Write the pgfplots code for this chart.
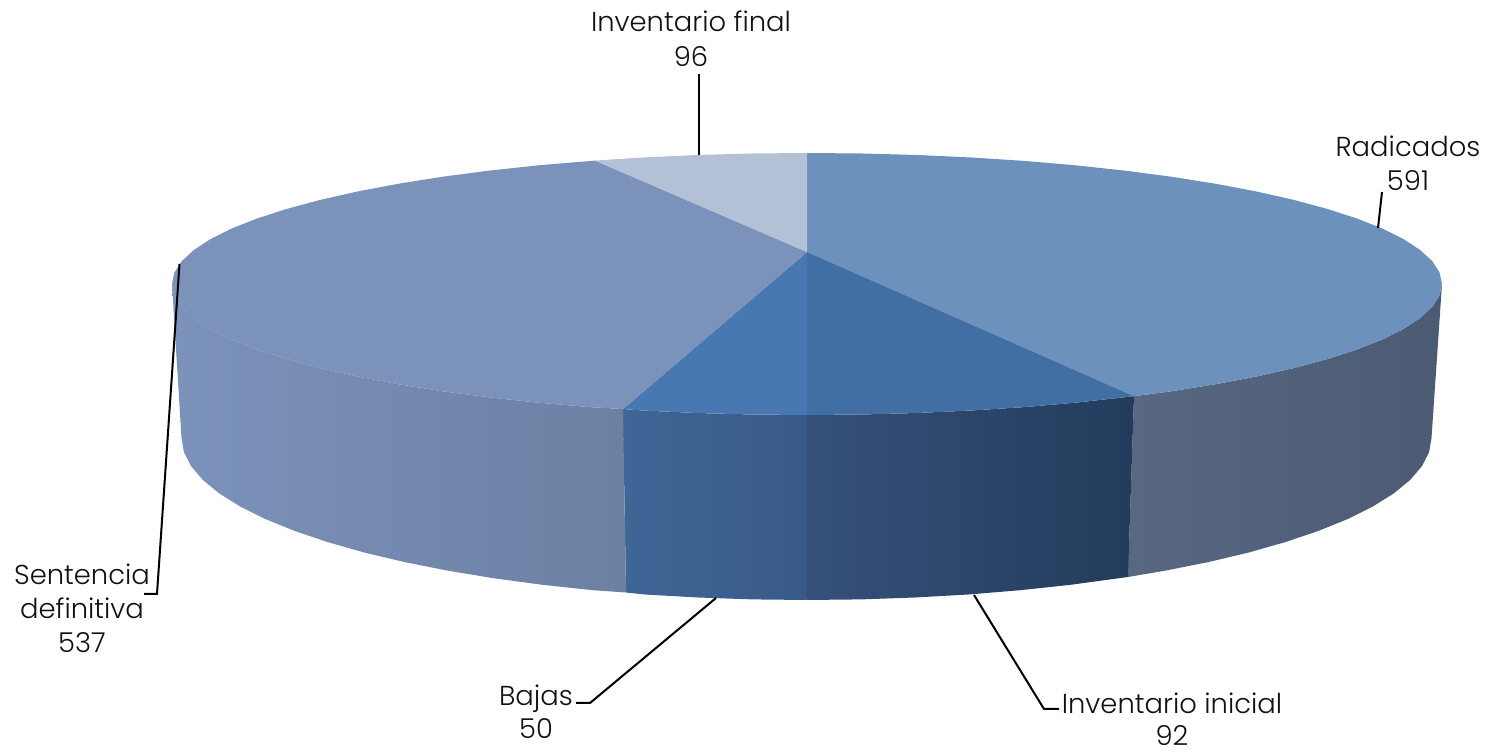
\documentclass[border=0pt]{standalone}
\usepackage{pgfplots}
\pgfplotsset{compat=1.18}
\usepackage{fontspec}
\setmainfont{Poppins Light}
\definecolor{tR}{HTML}{6C91BD}
\definecolor{tI}{HTML}{426FA3}
\definecolor{tB}{HTML}{4878B2}
\definecolor{tS}{HTML}{7B92BB}
\definecolor{tF}{HTML}{B4C0D5}
\definecolor{txt}{HTML}{111111}
\tikzset{lab/.style={anchor=base,font=\fontsize{13.7pt}{15pt}\selectfont,text=txt,inner sep=0pt},
lead/.style={black,line width=1pt}}
\begin{document}
\begin{tikzpicture}
\clip (0,0) rectangle (745pt,376.5pt);
\begin{axis}[width=745pt,height=376.5pt,scale only axis,xmin=0,xmax=1490,ymin=0,ymax=753,y dir=reverse,hide axis,clip=false]
% side walls
\addplot[draw=none,shade,left color={rgb,255:red,88;green,104;blue,130},middle color={rgb,255:red,77;green,92;blue,116},right color={rgb,255:red,76;green,91;blue,115},forget plot] coordinates {
(1134,396.2)(1171.2,391.3)(1215.2,384.3)(1256,376.6)(1293.4,368.2)(1327.2,359.1)(1356.9,349.5)(1382.5,339.4)(1403.7,328.8)(1420.3,317.9)(1432.4,306.7)(1439.6,295.4)(1442,284)
(1431.5,438)(1429.1,452.1)(1422,466.1)(1410.2,479.9)(1393.8,493.4)(1372.9,506.5)(1347.8,519)(1318.5,530.9)(1285.3,542.1)(1248.4,552.6)(1208.3,562.1)(1165,570.7)(1128,577)} -- cycle;
\addplot[draw=none,shade,left color={rgb,255:red,53;green,80;blue,122},right color={rgb,255:red,35;green,60;blue,92},forget plot] coordinates {
(807,415)(862.4,414.5)(917.2,413)(971.3,410.5)(1024.2,407.1)(1075.4,402.7)(1134,396.2)
(1128,577)(1070.6,584.8)(1020.3,590.2)(968.3,594.5)(915,597.5)(861,599.4)(806.5,600)} -- cycle;
\addplot[draw=none,shade,left color={rgb,255:red,62;green,102;blue,150},right color={rgb,255:red,57;green,90;blue,136},forget plot] coordinates {
(623,409)(642.7,410.5)(696.8,413)(751.6,414.5)(807,415)
(806.5,600)(752,599.4)(698,597.5)(644.7,594.5)(626,592.5)} -- cycle;
\addplot[draw=none,shade,left color={rgb,255:red,123;green,146;blue,187},middle color={rgb,255:red,120;green,143;blue,182},right color={rgb,255:red,108;green,128;blue,162},forget plot] coordinates {
(172,284)(174.4,295.4)(181.6,306.7)(193.7,317.9)(210.3,328.8)(231.5,339.4)(257.1,349.5)(286.8,359.1)(320.6,368.2)(358,376.6)(398.8,384.3)(442.8,391.3)(489.5,397.4)(538.6,402.7)(589.8,407.1)(623,409)
(626,592.5)(592.7,590.2)(542.4,584.8)(494,578.3)(448,570.7)(404.7,562.1)(364.6,552.6)(327.7,542.1)(294.5,530.9)(265.2,519)(240.1,506.5)(219.2,493.4)(202.8,479.9)(191,466.1)(183.9,452.1)(181.5,438)} -- cycle;
% top faces
\addplot[draw=none,fill=tR,forget plot] coordinates {
(807,252)(807,153)(862.4,153.5)(917.2,155)(971.3,157.5)(1024.2,160.9)(1075.4,165.3)(1124.5,170.6)(1171.2,176.7)(1215.2,183.7)(1256,191.4)(1293.4,199.8)(1327.2,208.9)(1356.9,218.5)(1382.5,228.6)(1403.7,239.2)(1420.3,250.1)(1432.4,261.3)(1439.6,272.6)(1442,284)(1439.6,295.4)(1432.4,306.7)(1420.3,317.9)(1403.7,328.8)(1382.5,339.4)(1356.9,349.5)(1327.2,359.1)(1293.4,368.2)(1256,376.6)(1215.2,384.3)(1171.2,391.3)(1134,396.2)} -- cycle;
\addplot[draw=none,fill=tI,forget plot] coordinates {
(807,252)(1134,396.2)(1075.4,402.7)(1024.2,407.1)(971.3,410.5)(917.2,413)(862.4,414.5)(807,415)} -- cycle;
\addplot[draw=none,fill=tB,forget plot] coordinates {
(807,252)(807,415)(751.6,414.5)(696.8,413)(642.7,410.5)(623,409)} -- cycle;
\addplot[draw=none,fill=tS,forget plot] coordinates {
(807,252)(623,409)(589.8,407.1)(538.6,402.7)(489.5,397.4)(442.8,391.3)(398.8,384.3)(358,376.6)(320.6,368.2)(286.8,359.1)(257.1,349.5)(231.5,339.4)(210.3,328.8)(193.7,317.9)(181.6,306.7)(174.4,295.4)(172,284)(174.4,272.6)(181.6,261.3)(193.7,250.1)(210.3,239.2)(231.5,228.6)(257.1,218.5)(286.8,208.9)(320.6,199.8)(358,191.4)(398.8,183.7)(442.8,176.7)(489.5,170.6)(538.6,165.3)(595,160.6)} -- cycle;
\addplot[draw=none,fill=tF,forget plot] coordinates {
(807,252)(595,160.6)(642.7,157.5)(696.8,155)(751.6,153.5)(807,153)} -- cycle;
% leader lines
\addplot[lead,no markers,forget plot] coordinates {(698.5,74)(698.5,155)};
\addplot[lead,no markers,forget plot] coordinates {(1382,192)(1378,228)};
\addplot[lead,no markers,forget plot] coordinates {(179.5,264)(157,594)(144,594)};
\addplot[lead,no markers,forget plot] coordinates {(716,598)(590,703)(576,703)};
\addplot[lead,no markers,forget plot] coordinates {(974,595)(1044,709)(1059,709)};
% labels
\node[lab] at (axis cs:691,32) {Inventario final};
\node[lab] at (axis cs:691,67) {96};
\node[lab] at (axis cs:1408,157) {Radicados};
\node[lab] at (axis cs:1408,191) {591};
\node[lab] at (axis cs:82,585) {Sentencia};
\node[lab] at (axis cs:82,618) {definitiva};
\node[lab] at (axis cs:82,653) {537};
\node[lab] at (axis cs:536,705) {Bajas};
\node[lab] at (axis cs:536,739) {50};
\node[lab] at (axis cs:1172,713) {Inventario inicial};
\node[lab] at (axis cs:1172,745) {92};
\end{axis}
\end{tikzpicture}
\end{document}
